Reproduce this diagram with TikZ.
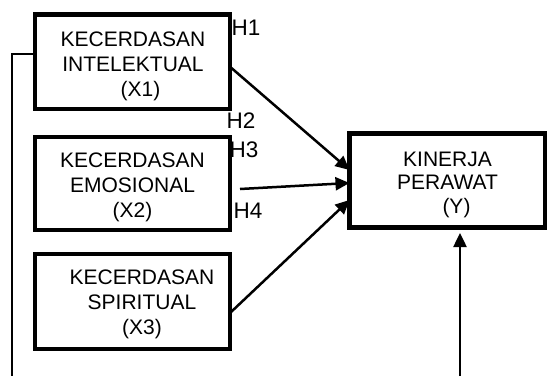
\documentclass[tikz,border=0pt]{standalone}
\usepackage{fontspec}
\setmainfont{Liberation Sans}
\usetikzlibrary{arrows.meta,calc}
\begin{document}
\begin{tikzpicture}[x=1pt,y=-1pt,
  box/.style={draw,line width=4.5pt,rectangle,inner sep=0pt,outer sep=0pt},
  txt/.style={align=center,inner sep=0pt,anchor=north,font=\fontsize{21}{25}\selectfont},
  hlab/.style={inner sep=0pt,anchor=base west,font=\fontsize{22.5}{25}\selectfont},
  arr/.style={line width=2.5pt,-{Triangle[length=14pt,width=13pt]}},
  lin/.style={line width=2pt}]
\useasboundingbox (0,0) rectangle (550,376);
% boxes
\node[box,minimum width=195pt,minimum height=94.5pt] (x1) at (132.5,61.75) {};
\node[box,minimum width=195pt,minimum height=93pt] (x2) at (132.5,183.5) {};
\node[box,minimum width=195pt,minimum height=95pt] (x3) at (132.5,301.5) {};
\node[box,minimum width=195.5pt,minimum height=94pt] (yb) at (447.25,180.5) {};
% texts
\node[txt] (t1) at (133,31.5) {KECERDASAN\\INTELEKTUAL\\\hspace*{15pt}(X1)};
\node[txt] (t2) at (132.5,152.5) {KECERDASAN\\EMOSIONAL\\(X2)};
\node[txt] (t3) at (142,269.5) {KECERDASAN\\SPIRITUAL\\(X3)};
\node[txt,font=\fontsize{21}{23.5}\selectfont] (ty) at (447.5,151.5) {KINERJA\\PERAWAT\\\hspace*{18pt}(Y)};
% labels
\node[hlab] (h1) at (231.5,35) {H1};
\node[hlab] (h2) at (226.5,128) {H2};
\node[hlab] (h3) at (229.5,157) {H3};
\node[hlab] (h4) at (233.5,218) {H4};
% arrows
\draw[arr] ($(x1.east)+(0,5)$) -- ($(yb.west)+(0,-10.5)$);
\draw[arr] ($(x2.east)+(10,5.5)$) -- ($(yb.west)+(0,2.5)$);
\draw[arr] ($(x3.east)+(0,11.5)$) -- ($(yb.west)+(0,19.5)$);
\coordinate (bot) at (460,376);
\draw[arr] (bot) -- ($(yb.south)+(12.75,5.5)$);
\coordinate (lc) at (12,54);
\coordinate (lb) at (12,376);
\draw[lin] ($(x1.west)+(0,-7.75)$) -- (lc) -- (lb);
\end{tikzpicture}
\end{document}
